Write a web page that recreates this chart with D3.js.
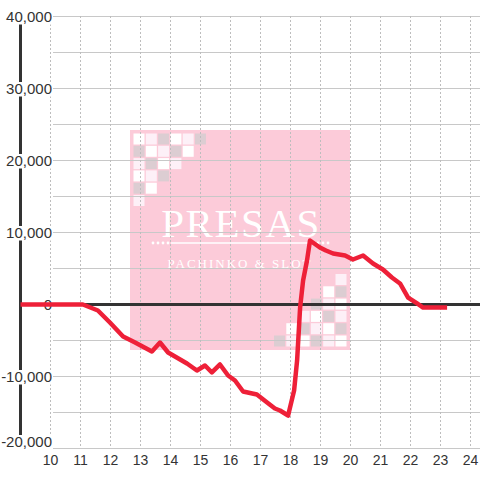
<!DOCTYPE html>
<html>
<head>
<meta charset="utf-8">
<script src="https://cdn.jsdelivr.net/npm/d3@7"></script>
<style>
  body { margin: 0; background: #fff; }
  svg text { font-family: "Liberation Sans", Arial, sans-serif; fill: #333; }
</style>
</head>
<body>
<div id="chart"></div>
<script>
// hour of day / running balance
const hours = [9, 11.08, 11.58, 11.98, 12.42, 12.82, 13.38, 13.65, 13.92, 14.55, 14.88, 15.15, 15.38, 15.65,
  15.92, 16.15, 16.42, 16.88, 17.22, 17.48, 17.65, 17.92, 18.12, 18.22, 18.32, 18.42, 18.55, 18.65,
  18.98, 19.18, 19.42, 19.82, 20.08, 20.42, 20.75, 21.08, 21.38, 21.65, 21.92, 22.22, 22.42, 23.22];
const balance = [0, 0, -830, -2500, -4440, -5280, -6530, -5280, -6670, -8190, -9170, -8470, -9440, -8330,
  -9860, -10560, -12080, -12500, -13610, -14440, -14720, -15420, -11940, -7780, -420, 3330, 6110, 8890,
  7920, 7500, 7080, 6810, 6250, 6810, 5690, 4860, 3750, 2920, 970, 140, -420, -420];

const xTicks = d3.range(10, 25);
const yTicks = [40000, 30000, 20000, 10000, 0, -10000, -20000];
const yGrid = d3.range(-20000, 40001, 5000);

// watermark corner squares: W white, P pale pink, G grey
const corner = [
  ["W", "P", "G", "W", "P", "G"],
  ["G", "W", "P", "G", "W"],
  ["P", "G", "W", "P"],
  ["W", "P", "G"],
  ["G", "W"],
  ["P"]
];
const shade = { W: "#ffffff", P: "#fdf0f7", G: "#dccdd2" };

const width = 480, height = 480;

const svg = d3.select("#chart").append("svg")
  .attr("width", width)
  .attr("height", height);

const x = d3.scaleLinear().domain([9, 24]).range([20.5, 470.5]);
const y = d3.scaleLinear().domain([-20000, 40000]).range([448.5, 16.5]);

// watermark
const wm = svg.append("g");
wm.append("rect")
  .attr("x", 130).attr("y", 130)
  .attr("width", 220).attr("height", 220)
  .attr("fill", "#fccbd9");

const step = 12.3, sq = 11;
corner.forEach((row, r) => {
  row.forEach((c, i) => {
    wm.append("rect")
      .attr("x", 133.5 + i * step).attr("y", 133.5 + r * step)
      .attr("width", sq).attr("height", sq)
      .attr("fill", shade[c]);
    wm.append("rect")
      .attr("x", 346.5 - sq - i * step).attr("y", 346.5 - sq - r * step)
      .attr("width", sq).attr("height", sq)
      .attr("fill", shade[c]);
  });
});

wm.append("text")
  .attr("x", 241).attr("y", 237)
  .attr("text-anchor", "middle")
  .style("font-family", "'Liberation Serif', 'DejaVu Serif', serif")
  .style("font-size", "41px")
  .style("letter-spacing", "1.5px")
  .style("fill", "#fff")
  .text("PRESAS");

wm.append("line")
  .attr("x1", 171).attr("x2", 314)
  .attr("y1", 243).attr("y2", 243)
  .attr("stroke", "#fff").attr("stroke-width", 1.5);

[153, 158, 163, 168, 318, 323, 328].forEach(cx => {
  wm.append("circle")
    .attr("cx", cx).attr("cy", 243).attr("r", 1.4)
    .attr("fill", "#fff");
});

wm.append("text")
  .attr("x", 240).attr("y", 268)
  .attr("text-anchor", "middle")
  .style("font-family", "'Liberation Serif', 'DejaVu Serif', serif")
  .style("font-size", "13px")
  .style("letter-spacing", "2px")
  .style("fill", "#fff")
  .text("PACHINKO & SLOT");

// horizontal grid
svg.append("g")
  .attr("transform", "translate(53,0)")
  .call(d3.axisRight(y).tickValues(yGrid).tickSize(427).tickFormat("").offset(0))
  .call(g => g.select(".domain").remove())
  .call(g => g.selectAll("line").attr("stroke", "#c8c8c8"));

// vertical dashed grid
svg.append("g")
  .attr("transform", "translate(0,16)")
  .call(d3.axisBottom(x).tickValues(xTicks).tickSize(432).tickFormat("").offset(0))
  .call(g => g.select(".domain").remove())
  .call(g => g.selectAll("line").attr("stroke", "#bdbdbd").attr("stroke-dasharray", "2,2"));

// left axis bar
svg.append("line")
  .attr("x1", x(9)).attr("x2", x(9))
  .attr("y1", y(40000)).attr("y2", y(-20000))
  .attr("stroke", "#333").attr("stroke-width", 3);

const fmt = d3.formatLocale({ decimal: ".", thousands: ",", grouping: [3], currency: ["", ""], minus: "-" }).format(",");

const yAxis = svg.append("g")
  .attr("transform", "translate(52,0)")
  .call(d3.axisLeft(y).tickValues(yTicks).tickSize(0).tickPadding(0).tickFormat(fmt).offset(0))
  .call(g => g.select(".domain").remove());
yAxis.selectAll("text")
  .attr("dy", "0.36em")
  .style("font-size", "15px")
  .attr("fill", "#333");
yAxis.selectAll(".tick").each(function (d) {
  const tick = d3.select(this);
  const t = tick.select("text");
  const b = t.node().getBBox();
  tick.insert("rect", "text")
    .attr("x", b.x - 1).attr("y", -6.5)
    .attr("width", b.width + 2).attr("height", 14.5)
    .attr("fill", "#fff");
  // bottom label sits above its gridline
  if (d === d3.min(yTicks)) tick.attr("transform", `translate(0,${y(d) - 7})`);
});

// x labels
const xAxis = svg.append("g")
  .attr("transform", "translate(0,455.5)")
  .call(d3.axisBottom(x).tickValues(xTicks).tickSize(0).tickPadding(0).offset(0))
  .call(g => g.select(".domain").remove());
xAxis.selectAll("text")
  .style("font-size", "14px")
  .attr("fill", "#333");

// zero line
svg.append("line")
  .attr("x1", x(9)).attr("x2", width)
  .attr("y1", y(0)).attr("y2", y(0))
  .attr("stroke", "#333").attr("stroke-width", 3);

// balance line
const pts = hours.map((h, i) => [h, balance[i]]);
const line = d3.line()
  .x(d => x(d[0]))
  .y(d => y(d[1]));

svg.append("path")
  .datum(pts)
  .attr("fill", "none")
  .attr("stroke", "#ee2038")
  .attr("stroke-width", 4.5)
  .attr("stroke-linejoin", "round")
  .attr("d", line);
</script>
</body>
</html>
